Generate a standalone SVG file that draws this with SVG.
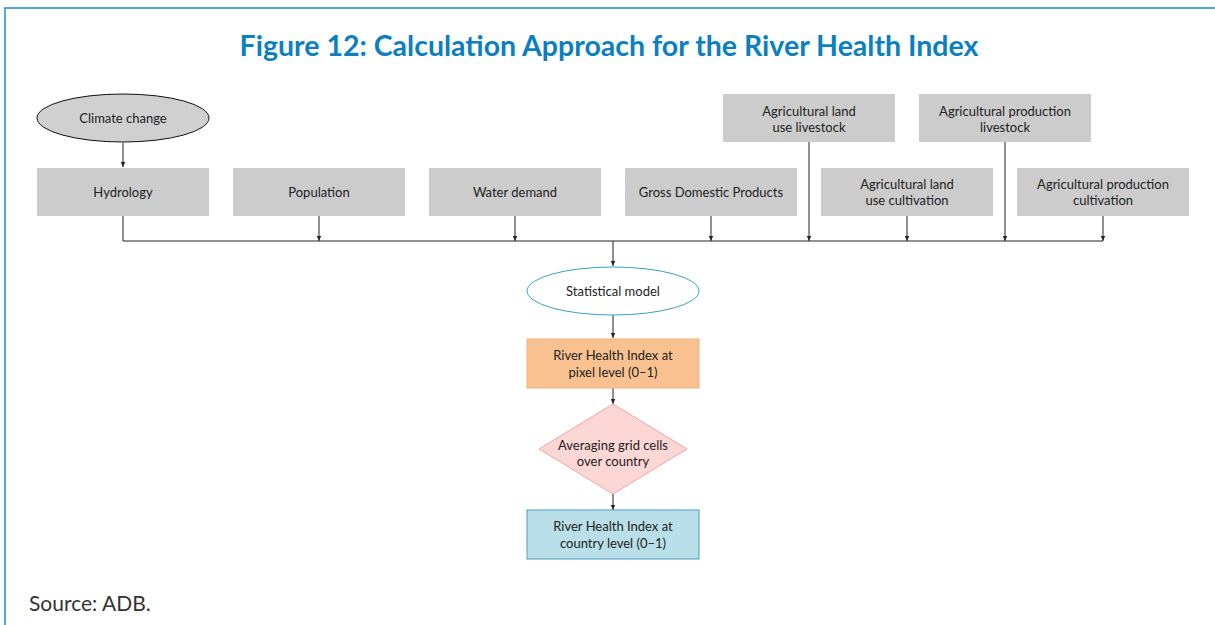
<svg xmlns="http://www.w3.org/2000/svg" width="1215" height="625" viewBox="0 0 1215 625">
  <defs>
    <marker id="arr" markerWidth="6" markerHeight="6" refX="5" refY="3" orient="auto" markerUnits="userSpaceOnUse">
      <path d="M0,0.8 L5,3 L0,5.2 Z" fill="#222"/>
    </marker>
  </defs>
  <style>
    .frame { fill: #fff; stroke: #1a8ccc; stroke-width: 1.5; }
    .title { font-family: "Lato", "Open Sans", sans-serif; font-weight: bold; font-size: 28.5px; fill: #0b7fc0; text-anchor: middle; }
    .lbl { font-family: "Lato", "Open Sans", sans-serif; font-size: 13px; fill: #222; text-anchor: middle; }
    .src { font-family: "Lato", "Open Sans", sans-serif; font-size: 21px; fill: #333; }
    .grey { fill: #cccccc; }
    .wire { fill: none; stroke: #222; stroke-width: 1; }
  </style>

  <rect class="frame" x="5" y="8" width="1220" height="630"/>
  <text class="title" x="609" y="56">Figure 12: Calculation Approach for the River Health Index</text>

  <!-- connectors -->
  <g id="connectors">
    <path class="wire" d="M123,143 V167" marker-end="url(#arr)"/>
    <path class="wire" d="M123,216 V241 H1103"/>
    <path class="wire" d="M319,216 V241" marker-end="url(#arr)"/>
    <path class="wire" d="M515,216 V241" marker-end="url(#arr)"/>
    <path class="wire" d="M711,216 V241" marker-end="url(#arr)"/>
    <path class="wire" d="M809,142 V241" marker-end="url(#arr)"/>
    <path class="wire" d="M907,216 V241" marker-end="url(#arr)"/>
    <path class="wire" d="M1005,142 V241" marker-end="url(#arr)"/>
    <path class="wire" d="M1103,216 V241" marker-end="url(#arr)"/>
    <path class="wire" d="M613,241 V266" marker-end="url(#arr)"/>
    <path class="wire" d="M613,315 V338" marker-end="url(#arr)"/>
    <path class="wire" d="M613,388 V404" marker-end="url(#arr)"/>
    <path class="wire" d="M613,494 V510" marker-end="url(#arr)"/>
  </g>

  <g id="climate">
    <ellipse cx="123" cy="118" rx="86" ry="24" fill="#d0d0d0" stroke="#111" stroke-width="1"/>
    <text class="lbl" x="123" y="122.5">Climate change</text>
  </g>

  <g id="hydrology">
    <rect class="grey" x="37" y="168" width="172" height="48"/>
    <text class="lbl" x="123" y="197">Hydrology</text>
  </g>
  <g id="population">
    <rect class="grey" x="233" y="168" width="172" height="48"/>
    <text class="lbl" x="319" y="197">Population</text>
  </g>
  <g id="water-demand">
    <rect class="grey" x="429" y="168" width="172" height="48"/>
    <text class="lbl" x="515" y="197">Water demand</text>
  </g>
  <g id="gdp">
    <rect class="grey" x="625" y="168" width="172" height="48"/>
    <text class="lbl" x="711" y="197">Gross Domestic Products</text>
  </g>
  <g id="land-cultivation">
    <rect class="grey" x="821" y="168" width="172" height="48"/>
    <text class="lbl" x="907" y="189">Agricultural land</text>
    <text class="lbl" x="907" y="205">use cultivation</text>
  </g>
  <g id="prod-cultivation">
    <rect class="grey" x="1017" y="168" width="172" height="48"/>
    <text class="lbl" x="1103" y="189">Agricultural production</text>
    <text class="lbl" x="1103" y="205">cultivation</text>
  </g>
  <g id="land-livestock">
    <rect class="grey" x="723" y="94" width="172" height="48"/>
    <text class="lbl" x="809" y="116">Agricultural land</text>
    <text class="lbl" x="809" y="132">use livestock</text>
  </g>
  <g id="prod-livestock">
    <rect class="grey" x="919" y="94" width="172" height="48"/>
    <text class="lbl" x="1005" y="116">Agricultural production</text>
    <text class="lbl" x="1005" y="132">livestock</text>
  </g>

  <g id="statistical-model">
    <ellipse cx="613" cy="291" rx="86" ry="24" fill="#fff" stroke="#3a9fc8" stroke-width="1"/>
    <text class="lbl" x="613" y="295.5">Statistical model</text>
  </g>

  <g id="rhi-pixel">
    <rect x="527" y="339" width="172" height="49" fill="#f9c18f" stroke="#f6b27c" stroke-width="1"/>
    <text class="lbl" x="613" y="360">River Health Index at</text>
    <text class="lbl" x="613" y="377">pixel level (0–1)</text>
  </g>

  <g id="averaging">
    <polygon points="613,404 687,449 613,494 539,449" fill="#fdd6d6" stroke="#f3a3a3" stroke-width="1"/>
    <text class="lbl" x="613" y="450">Averaging grid cells</text>
    <text class="lbl" x="613" y="466">over country</text>
  </g>

  <g id="rhi-country">
    <rect x="527" y="510" width="172" height="49" fill="#b9dfe8" stroke="#4a9fc2" stroke-width="1"/>
    <text class="lbl" x="613" y="531">River Health Index at</text>
    <text class="lbl" x="613" y="548">country level (0–1)</text>
  </g>

  <text class="src" x="29" y="611">Source: ADB.</text>
</svg>
